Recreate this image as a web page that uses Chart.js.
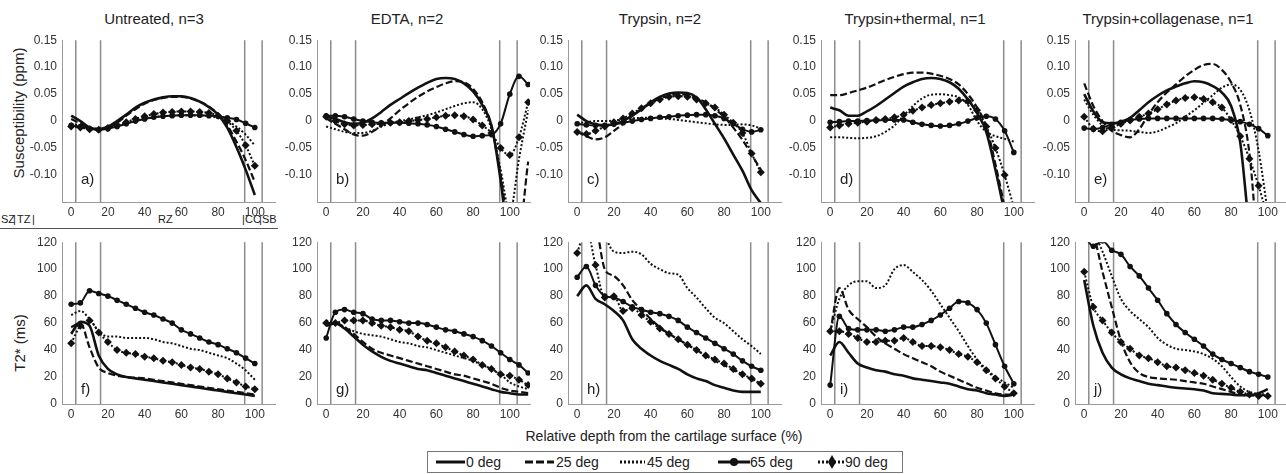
<!DOCTYPE html>
<html>
<head>
<meta charset="utf-8">
<script src="https://cdn.jsdelivr.net/npm/chart.js@4.4.1/dist/chart.umd.min.js"></script>
<style>
  body { margin: 0; background: #fff; }
  #fig { position: relative; width: 1286px; height: 474px; overflow: hidden; font-family: "Liberation Sans", Arial, sans-serif; color: #222; }
  .panel { position: absolute; }
  .lbl { position: absolute; white-space: nowrap; transform: translate(-50%, -50%); }
  .title { font-size: 15px; }
  .ytitle { font-size: 15px; transform: translate(-50%, -50%) rotate(-90deg); }
  .zone { position: absolute; font-size: 11px; top: 213px; }
  #legend { position: absolute; left: 427px; top: 451px; width: 474px; height: 20px; border: 1px solid #777; }
  #legend span { position: absolute; top: 2px; font-size: 14px; }
  #legend svg { position: absolute; left: 0; top: 0; }
</style>
</head>
<body>
<div id="fig">
  <div class="lbl title" style="left:154px;top:18px">Untreated, n=3</div>
  <div class="lbl title" style="left:407px;top:18px">EDTA, n=2</div>
  <div class="lbl title" style="left:660px;top:18px">Trypsin, n=2</div>
  <div class="lbl title" style="left:915px;top:18px">Trypsin+thermal, n=1</div>
  <div class="lbl title" style="left:1168px;top:18px">Trypsin+collagenase, n=1</div>
  <div class="lbl ytitle" style="left:18px;top:113px">Susceptibility (ppm)</div>
  <div class="lbl ytitle" style="left:19px;top:343px">T2* (ms)</div>
  <div class="lbl" style="left:664px;top:436px;font-size:14px">Relative depth from the cartilage surface (%)</div>

  <!-- zone strip under the first panel -->
  <span class="zone" style="left:1px">SZ</span>
  <span class="zone" style="left:13px">|</span>
  <span class="zone" style="left:17px">TZ</span>
  <span class="zone" style="left:32px">|</span>
  <span class="zone" style="left:158px">RZ</span>
  <span class="zone" style="left:242px">|</span>
  <span class="zone" style="left:245px">CC</span>
  <span class="zone" style="left:259px">|</span>
  <span class="zone" style="left:262px">SB</span>
  <div style="position:absolute;left:0;top:228px;width:278px;border-top:1px solid #555"></div>

  <div id="legend">
    <svg width="474" height="20">
      <line x1="8" y1="10" x2="37" y2="10" stroke="#111" stroke-width="3"/>
      <line x1="97" y1="10" x2="126" y2="10" stroke="#111" stroke-width="3" stroke-dasharray="8 3"/>
      <line x1="192" y1="10" x2="217" y2="10" stroke="#111" stroke-width="3" stroke-dasharray="2 2"/>
      <line x1="290" y1="10" x2="322" y2="10" stroke="#111" stroke-width="3"/>
      <circle cx="306" cy="10" r="4" fill="#111"/>
      <line x1="390" y1="10" x2="416" y2="10" stroke="#111" stroke-width="3" stroke-dasharray="2 2"/>
      <polygon points="404,3 408,10 404,17 400,10" fill="#111"/>
    </svg>
    <span style="left:38px">0 deg</span>
    <span style="left:128px">25 deg</span>
    <span style="left:219px">45 deg</span>
    <span style="left:322px">65 deg</span>
    <span style="left:417px">90 deg</span>
  </div>
</div>

<script>
// depth grid (% of cartilage thickness); the EDTA sample runs a bit deeper
const depth = [0, 5, 10, 15, 20, 25, 30, 35, 40, 45, 50, 55, 60, 65, 70, 75, 80, 85, 90, 95, 100];
const depthEdta = [0, 5, 10, 15, 20, 25, 30, 35, 40, 45, 50, 55, 60, 65, 70, 75, 80, 85, 90, 95, 100, 105, 110];

const angles = ['0 deg', '25 deg', '45 deg', '65 deg', '90 deg'];
const panelTags = ['a)', 'b)', 'c)', 'd)', 'e)', 'f)', 'g)', 'h)', 'i)', 'j)'];
const zoneBounds = [2.5, 16, 94.5, 104];
const depthTicks = [0, 20, 40, 60, 80, 100];
const suscTicks = [-0.1, -0.05, 0, 0.05, 0.1, 0.15];
const t2Ticks = [0, 20, 40, 60, 80, 100, 120];

// susceptibility (ppm), rows = 0, 25, 45, 65, 90 deg
const suscUntreated = [
  [0.01, 0.0, -0.012, -0.015, -0.01, 0.0, 0.012, 0.025, 0.034, 0.04, 0.044, 0.046, 0.046, 0.043, 0.036, 0.026, 0.012, -0.012, -0.048, -0.09, -0.137],
  [0.004, -0.004, -0.012, -0.015, -0.012, -0.003, 0.01, 0.022, 0.032, 0.039, 0.043, 0.045, 0.045, 0.042, 0.036, 0.027, 0.013, -0.008, -0.038, -0.072, -0.113],
  [-0.005, -0.008, -0.012, -0.014, -0.012, -0.008, -0.004, 0.0, 0.004, 0.007, 0.009, 0.01, 0.011, 0.011, 0.01, 0.009, 0.006, 0.0, -0.01, -0.025, -0.045],
  [-0.008, -0.01, -0.014, -0.016, -0.014, -0.01, -0.005, 0.0, 0.004, 0.007, 0.009, 0.01, 0.011, 0.011, 0.011, 0.01, 0.009, 0.006, 0.003, -0.004, -0.012],
  [-0.01, -0.012, -0.015, -0.016, -0.013, -0.008, -0.002, 0.004, 0.009, 0.013, 0.016, 0.017, 0.018, 0.018, 0.017, 0.015, 0.01, 0.0, -0.018, -0.045, -0.083]
];
const suscEdta = [
  [0.008, 0.004, -0.002, -0.005, -0.003, 0.005, 0.017, 0.03, 0.041, 0.052, 0.062, 0.071, 0.078, 0.08, 0.078, 0.07, 0.055, 0.03, -0.008, -0.11, -0.25, -0.35, -0.4],
  [0.005, -0.005, -0.015, -0.025, -0.027, -0.02, -0.008, 0.005, 0.02, 0.033, 0.045, 0.055, 0.063, 0.07, 0.074, 0.072, 0.06, 0.035, -0.01, -0.1, -0.2, -0.2, -0.075],
  [-0.01, -0.015, -0.02, -0.022, -0.022, -0.018, -0.01, -0.004, 0.0, 0.003, 0.007, 0.011, 0.016, 0.022, 0.028, 0.033, 0.035, 0.022, -0.015, -0.09, -0.17, -0.07, 0.02],
  [0.01, 0.01, 0.008, 0.004, 0.0, -0.002, -0.003, -0.003, -0.003, -0.004, -0.005, -0.007, -0.01, -0.015, -0.02, -0.025, -0.028, -0.027, -0.025, -0.005, 0.05, 0.083, 0.068],
  [0.008, 0.0, -0.006, -0.008, -0.007, -0.006, -0.005, -0.003, -0.002, 0.0, 0.002, 0.004, 0.007, 0.01, 0.011, 0.009, 0.003, -0.008, -0.022, -0.05, -0.063, -0.03, 0.035]
];
const suscTrypsin = [
  [0.012, 0.0, -0.006, -0.008, -0.006, 0.0, 0.01, 0.022, 0.035, 0.045, 0.051, 0.053, 0.052, 0.044, 0.022, -0.005, -0.032, -0.062, -0.092, -0.128, -0.152],
  [-0.02, -0.028, -0.034, -0.03, -0.018, -0.005, 0.01, 0.022, 0.033, 0.042, 0.047, 0.05, 0.048, 0.042, 0.035, 0.022, 0.008, -0.012, -0.035, -0.062, -0.09],
  [-0.003, -0.002, 0.0, 0.0, 0.001, 0.003, 0.005, 0.006, 0.006, 0.005, 0.004, 0.002, 0.0, -0.002, -0.004, -0.006, -0.007, -0.007, -0.006, -0.008, -0.014],
  [-0.005, -0.007, -0.008, -0.008, -0.006, -0.003, 0.0, 0.003, 0.005, 0.007, 0.008, 0.01, 0.011, 0.012, 0.012, 0.01, 0.005, -0.005, -0.015, -0.02, -0.016],
  [-0.02, -0.024, -0.018, -0.01, -0.002, 0.005, 0.014, 0.024, 0.033, 0.04, 0.045, 0.046, 0.045, 0.04, 0.033, 0.025, 0.012, -0.003, -0.022, -0.06, -0.095]
];
const suscThermal = [
  [0.025, 0.02, 0.01, 0.01, 0.018, 0.028, 0.04, 0.052, 0.064, 0.072, 0.078, 0.08, 0.078, 0.072, 0.06, 0.04, 0.015, -0.02, -0.09, -0.17, -0.25],
  [0.048, 0.048, 0.052, 0.057, 0.062, 0.069, 0.076, 0.082, 0.087, 0.09, 0.09, 0.088, 0.084, 0.078, 0.068, 0.05, 0.025, -0.01, -0.08, -0.16, -0.25],
  [-0.03, -0.03, -0.031, -0.032, -0.031, -0.028, -0.02, -0.008, 0.01, 0.028, 0.042, 0.049, 0.05, 0.048, 0.044, 0.03, 0.0, -0.02, -0.028, -0.033, -0.038],
  [-0.002, -0.001, 0.0, 0.0, 0.001, 0.001, 0.002, 0.002, 0.002, -0.002, -0.006, -0.008, -0.009, -0.008, -0.005, 0.0, 0.006, 0.009, 0.004, -0.018, -0.058],
  [-0.012, -0.008, -0.005, -0.003, -0.001, 0.002, 0.004, 0.007, 0.012, 0.019, 0.025, 0.03, 0.033, 0.036, 0.038, 0.037, 0.02, -0.01, -0.05, -0.1, -0.16]
];
const suscCollagenase = [
  [0.05, 0.018, -0.002, -0.004, -0.001, 0.006, 0.02, 0.035, 0.047, 0.057, 0.064, 0.07, 0.074, 0.072, 0.065, 0.053, 0.028, -0.04, -0.2, -0.3, -0.35],
  [0.07, 0.028, 0.0, -0.018, -0.026, -0.03, -0.015, 0.012, 0.035, 0.053, 0.068, 0.083, 0.095, 0.104, 0.106, 0.095, 0.072, 0.03, -0.06, -0.25, -0.35],
  [0.04, 0.012, -0.008, -0.016, -0.017, -0.018, -0.02, -0.022, -0.019, -0.012, -0.004, 0.008, 0.02, 0.034, 0.048, 0.062, 0.068, 0.058, 0.02, -0.055, -0.17],
  [-0.013, -0.015, -0.012, -0.006, -0.002, 0.002, 0.004, 0.005, 0.005, 0.005, 0.005, 0.005, 0.005, 0.005, 0.005, 0.004, 0.002, -0.001, -0.006, -0.014, -0.027],
  [0.008, -0.014, -0.019, -0.012, -0.005, 0.001, 0.008, 0.014, 0.022, 0.031, 0.038, 0.043, 0.044, 0.041, 0.035, 0.025, 0.002, -0.028, -0.07, -0.12, -0.18]
];

// T2* (ms), rows = 0, 25, 45, 65, 90 deg
const t2Untreated = [
  [52, 61, 58, 36, 26, 22, 20, 19, 18, 17, 16, 15, 14, 13, 12, 11, 10, 9, 8, 7, 6],
  [57, 60, 42, 27, 23, 21, 20, 19.5, 19, 18, 17, 16, 15, 14, 13, 12, 11, 10, 9, 8, 7],
  [66, 69, 63, 54, 50, 50, 49, 49, 49, 48, 46, 45, 43, 41, 40, 38, 36, 34, 30, 25, 18],
  [74, 75, 84, 82, 80, 77, 74, 71, 68, 66, 63, 60, 55, 52, 49, 46, 44, 41, 38, 34, 30],
  [45, 58, 62, 53, 46, 40, 38, 37, 35, 34, 32, 31, 29, 27, 26, 24, 22, 19, 16, 13, 11]
];
const t2Edta = [
  [58, 60, 56, 50, 44, 39, 35, 32, 30, 28, 26, 25, 23, 21, 19, 17, 15, 13, 11, 9, 8, 7, 7],
  [60, 60, 57, 52, 46, 41, 38, 36, 34, 32, 30, 28, 26, 24, 22, 21, 19, 17, 15, 12, 10, 9, 8],
  [62, 60, 57, 54, 52, 51, 50, 48, 46, 45, 43, 42, 40, 38, 36, 34, 32, 29, 26, 22, 16, 13, 11],
  [49, 68, 70, 68, 67, 63, 62, 62, 61, 60, 60, 59, 57, 55, 54, 52, 50, 47, 43, 38, 33, 29, 23],
  [60, 60, 62, 62, 62, 60, 58, 57, 55, 54, 50, 47, 45, 42, 39, 36, 33, 29, 26, 22, 21, 18, 14]
];
const t2Trypsin = [
  [80, 88, 78, 74, 69, 62, 48, 41, 36, 32, 29, 26, 22, 19, 17, 14, 12, 10, 9, 9, 9],
  [140, 150, 135, 100, 95, 88, 77, 70, 63, 57, 52, 48, 44, 40, 36, 32, 29, 25, 22, 18, 15],
  [150, 160, 140, 125, 113, 112, 113, 111, 104, 100, 97, 96, 86, 79, 71, 64, 60, 54, 48, 43, 37],
  [94, 102, 88, 80, 79, 76, 72, 70, 68, 67, 65, 62, 57, 53, 49, 45, 41, 37, 32, 28, 25],
  [112, 130, 103, 79, 80, 69, 71, 66, 61, 56, 52, 48, 44, 40, 36, 33, 30, 26, 22, 19, 15]
];
const t2Thermal = [
  [36, 46, 38, 30, 27, 25, 24, 22, 21, 19, 18, 17, 16, 15, 13, 11, 10, 8, 7, 6, 7],
  [53, 86, 70, 63, 57, 50, 45, 41, 37, 34, 31, 28, 24, 21, 18, 15, 12, 10, 8, 7, 7],
  [54, 78, 88, 91, 91, 86, 88, 100, 103, 98, 92, 84, 74, 64, 54, 43, 33, 26, 20, 16, 12],
  [14, 65, 56, 55, 55, 55, 54, 55, 57, 57, 59, 62, 66, 71, 76, 75, 70, 60, 44, 28, 15],
  [54, 54, 52, 49, 46, 46, 47, 47, 49, 46, 43, 43, 42, 40, 37, 35, 31, 25, 19, 13, 8]
];
const t2Collagenase = [
  [92, 58, 38, 27, 22, 19, 17, 15, 14, 13, 12, 11.5, 11, 10, 8, 7.5, 7, 6.5, 6.5, 8, 11],
  [130, 125, 98, 72, 47, 31, 23, 20, 19, 18.5, 18, 17, 16, 15, 13, 11, 9, 7, 6.5, 6.5, 6.5],
  [140, 128, 113, 95, 78, 69, 63, 57, 49, 44, 41, 40, 39, 37, 33.5, 28, 20, 13, 9, 7.5, 7],
  [125, 117, 121, 114, 111, 102, 95, 86, 77, 67, 59, 53, 48, 43, 37, 33, 30, 27, 24, 22, 20],
  [98, 72, 62, 53, 46, 41, 36, 34, 31, 28, 27, 25, 23, 21, 18, 15, 12, 9, 7, 6, 6]
];

const suscPanels = [suscUntreated, suscEdta, suscTrypsin, suscThermal, suscCollagenase];
const t2Panels = [t2Untreated, t2Edta, t2Trypsin, t2Thermal, t2Collagenase];
const panelDepths = [depth, depthEdta, depth, depth, depth];

// plot-area geometry
const colLeft = [62, 317, 568, 821, 1075];
const rowTop = [37, 239];
const PLOT_W = 213, PLOT_H = 165;
const PAD_L = 48, PAD_T = 9, PAD_R = 4, PAD_B = 22;

const FONT = '"Liberation Sans", Arial, sans-serif';
Chart.defaults.font.family = FONT;
Chart.defaults.color = '#333';

// line look per angle: solid, dashed, dotted, solid+circles, dotted+diamonds
const lineLook = [
  { borderWidth: 2.6, borderDash: [], pointRadius: 0 },
  { borderWidth: 2.2, borderDash: [7, 3], pointRadius: 0 },
  { borderWidth: 2, borderDash: [2, 2], pointRadius: 0 },
  { borderWidth: 2, borderDash: [], pointRadius: 2.8, pointStyle: 'circle' },
  { borderWidth: 2, borderDash: [2, 2], pointRadius: 4, pointStyle: 'rectRot' }
];

// zone boundaries and the panel letter
const zonePlugin = {
  id: 'zones',
  beforeDatasetsDraw(chart, args, opts) {
    const { ctx, chartArea: a, scales: { x } } = chart;
    ctx.save();
    ctx.strokeStyle = '#8c8c8c';
    ctx.lineWidth = 1.5;
    zoneBounds.forEach(v => {
      const px = x.getPixelForValue(v);
      ctx.beginPath();
      ctx.moveTo(px, a.top);
      ctx.lineTo(px, a.bottom);
      ctx.stroke();
    });
    ctx.fillStyle = '#222';
    ctx.font = '15px ' + FONT;
    ctx.textBaseline = 'middle';
    ctx.fillText(opts.tag, a.left + 19, a.bottom - opts.lift);
    ctx.restore();
  }
};

function drawPanel(row, col) {
  const xs = panelDepths[col];
  const rows = row === 0 ? suscPanels[col] : t2Panels[col];

  const box = document.createElement('div');
  box.className = 'panel';
  box.style.left = (colLeft[col] - PAD_L) + 'px';
  box.style.top = (rowTop[row] - PAD_T) + 'px';
  box.style.width = (PAD_L + PLOT_W + PAD_R) + 'px';
  box.style.height = (PAD_T + PLOT_H + PAD_B) + 'px';
  const canvas = document.createElement('canvas');
  box.appendChild(canvas);
  document.getElementById('fig').appendChild(box);

  const datasets = rows.map((vals, k) => Object.assign({
    label: angles[k],
    data: vals.map((y, i) => ({ x: xs[i], y })),
    borderColor: '#111',
    backgroundColor: '#111',
    pointBorderWidth: 0,
    cubicInterpolationMode: 'monotone',
    fill: false
  }, lineLook[k]));

  const yTicks = row === 0 ? suscTicks : t2Ticks;

  new Chart(canvas, {
    type: 'line',
    data: { datasets },
    options: {
      animation: false,
      responsive: true,
      maintainAspectRatio: false,
      layout: { padding: { left: 0, top: PAD_T, right: PAD_R, bottom: 0 } },
      plugins: {
        legend: { display: false },
        tooltip: { enabled: false },
        zones: { tag: panelTags[row * 5 + col], lift: row === 0 ? 22 : 14 }
      },
      scales: {
        x: {
          type: 'linear',
          min: -5,
          max: 111,
          afterBuildTicks: s => { s.ticks = depthTicks.map(v => ({ value: v })); },
          afterFit: s => { s.height = PAD_B; },
          grid: { display: false, drawTicks: false },
          border: { color: '#9a9a9a', width: 1 },
          ticks: { padding: 3, maxRotation: 0, autoSkip: false, font: { size: 12 } }
        },
        y: {
          min: row === 0 ? -0.15 : 0,
          max: row === 0 ? 0.15 : 120,
          afterBuildTicks: s => { s.ticks = yTicks.map(v => ({ value: v })); },
          afterFit: s => { s.width = PAD_L; },
          grid: { display: false, drawTicks: false },
          border: { color: '#9a9a9a', width: 1 },
          ticks: {
            padding: 5,
            autoSkip: false,
            font: { size: 12 },
            callback: v => row === 0 ? (v === 0 ? '0' : v.toFixed(2)) : String(v)
          }
        }
      }
    },
    plugins: [zonePlugin]
  });
}

for (let row = 0; row < 2; row++) {
  for (let col = 0; col < 5; col++) drawPanel(row, col);
}
</script>
</body>
</html>
